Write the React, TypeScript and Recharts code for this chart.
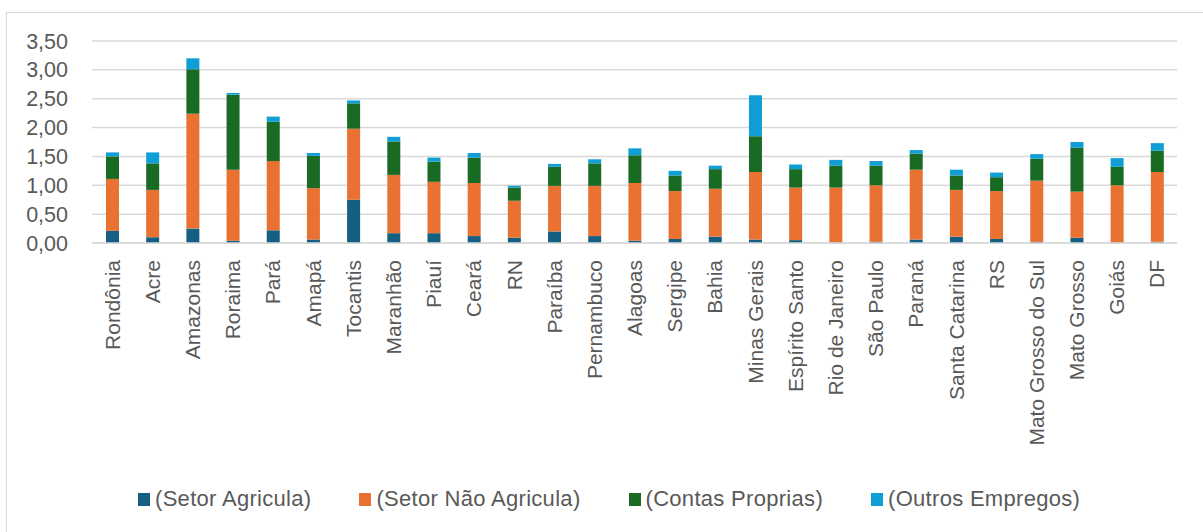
import { BarChart, Bar, XAxis, YAxis, CartesianGrid, Legend } from 'recharts';

const estados = [
  'Rondônia', 'Acre', 'Amazonas', 'Roraima', 'Pará', 'Amapá', 'Tocantis', 'Maranhão', 'Piauí',
  'Ceará', 'RN', 'Paraíba', 'Pernambuco', 'Alagoas', 'Sergipe', 'Bahia', 'Minas Gerais',
  'Espírito Santo', 'Rio de Janeiro', 'São Paulo', 'Paraná', 'Santa Catarina', 'RS',
  'Mato Grosso do Sul', 'Mato Grosso', 'Goiás', 'DF',
];

const setorAgricula = [
  0.21, 0.10, 0.25, 0.04, 0.22, 0.06, 0.75, 0.17, 0.17, 0.12, 0.09, 0.20, 0.12, 0.04,
  0.07, 0.11, 0.06, 0.05, 0.01, 0.02, 0.06, 0.11, 0.07, 0.02, 0.09, 0.01, 0.02,
];
const setorNaoAgricula = [
  0.90, 0.82, 1.99, 1.23, 1.20, 0.89, 1.23, 1.01, 0.89, 0.92, 0.64, 0.79, 0.87, 1.00,
  0.83, 0.83, 1.17, 0.91, 0.95, 0.98, 1.21, 0.81, 0.83, 1.06, 0.80, 0.99, 1.21,
];
const contasProprias = [
  0.39, 0.46, 0.77, 1.30, 0.68, 0.56, 0.44, 0.58, 0.35, 0.44, 0.23, 0.33, 0.39, 0.48,
  0.27, 0.34, 0.62, 0.32, 0.38, 0.34, 0.28, 0.25, 0.24, 0.38, 0.76, 0.32, 0.37,
];
const outrosEmpregos = [
  0.07, 0.19, 0.19, 0.03, 0.09, 0.05, 0.05, 0.08, 0.07, 0.08, 0.03, 0.05, 0.07, 0.12,
  0.08, 0.06, 0.71, 0.08, 0.10, 0.08, 0.06, 0.10, 0.08, 0.08, 0.10, 0.15, 0.13,
];

const yTicks = [0, 0.5, 1, 1.5, 2, 2.5, 3, 3.5];

const series = [
  { key: 'agri', name: '(Setor Agricula)', color: '#156082' },
  { key: 'naoAgri', name: '(Setor Não Agricula)', color: '#E97132' },
  { key: 'contas', name: '(Contas Proprias)', color: '#196B24' },
  { key: 'outros', name: '(Outros Empregos)', color: '#0F9ED5' },
];

const data = estados.map((name, i) => ({
  name,
  agri: setorAgricula[i],
  naoAgri: setorNaoAgricula[i],
  contas: contasProprias[i],
  outros: outrosEmpregos[i],
}));

const font = '"Liberation Sans", Arial, sans-serif';

function XTick(props: any) {
  const { x, y, payload } = props;
  return (
    <g transform={`translate(${x},${y})`}>
      <text
        transform="rotate(-90)"
        textAnchor="end"
        dy="0.36em"
        fill="#595959"
        fontSize={21}
        fontFamily={font}
      >
        {payload.value}
      </text>
    </g>
  );
}

function LegendBox() {
  return (
    <div
      style={{
        height: 40,
        display: 'flex',
        alignItems: 'center',
        paddingLeft: 138,
        fontFamily: font,
        fontSize: 22,
        letterSpacing: 0.3,
        color: '#595959',
      }}
    >
      {series.map((s) => (
        <div key={s.key} style={{ display: 'flex', alignItems: 'center', marginRight: 48 }}>
          <span style={{ width: 12, height: 13, background: s.color, marginRight: 5 }} />
          <span>{s.name}</span>
        </div>
      ))}
    </div>
  );
}

export default function App() {
  return (
    <div style={{ position: 'absolute', left: 0, top: 0, width: 1203, height: 532, overflow: 'hidden', background: '#fff' }}>
      <div
        style={{
          position: 'absolute',
          left: 6,
          top: 12,
          width: 1260,
          height: 600,
          border: '1px solid #D9D9D9',
        }}
      />
      <div style={{ position: 'absolute', left: 0, top: 0 }}>
        <BarChart
          width={1203}
          height={532}
          data={data}
          margin={{ top: 41, right: 26, left: 0, bottom: 13 }}
          barSize={13}
        >
          <CartesianGrid vertical={false} stroke="#D9D9D9" strokeWidth={1.5} />
          <XAxis
            dataKey="name"
            interval={0}
            height={236}
            tick={<XTick />}
            tickLine={false}
            tickMargin={11}
            axisLine={{ stroke: '#D9D9D9', strokeWidth: 1.5 }}
          />
          <YAxis
            width={92}
            domain={[0, 3.5]}
            ticks={yTicks}
            interval={0}
            tickFormatter={(v: number) => v.toFixed(2).replace('.', ',')}
            tick={{ fill: '#595959', fontSize: 21.5, fontFamily: font }}
            tickLine={false}
            tickMargin={18}
            axisLine={false}
          />
          <Legend verticalAlign="bottom" content={<LegendBox />} />
          {series.map((s) => (
            <Bar
              key={s.key}
              dataKey={s.key}
              name={s.name}
              stackId="a"
              fill={s.color}
              isAnimationActive={false}
            />
          ))}
        </BarChart>
      </div>
    </div>
  );
}
